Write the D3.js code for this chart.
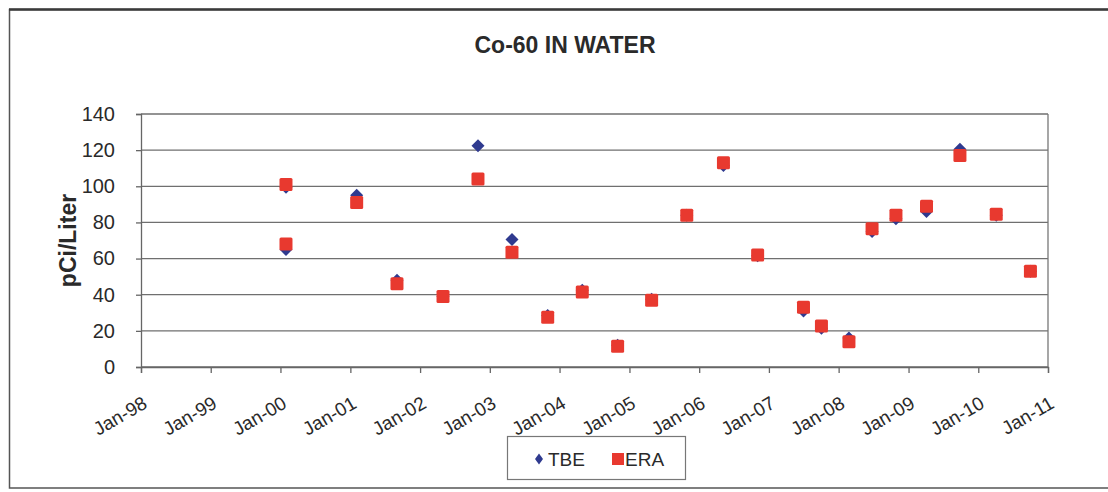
<!DOCTYPE html>
<html>
<head>
<meta charset="utf-8">
<script src="https://cdn.jsdelivr.net/npm/d3@7/dist/d3.min.js"></script>
<style>
  html, body { margin: 0; padding: 0; background: #fff; }
  svg { display: block; }
  text { font-family: Arial, "Liberation Sans", sans-serif; fill: #2a2a2a; }
</style>
</head>
<body>
<svg id="chart" width="1108" height="492"></svg>
<script>
// ---- data ----
const sampleDates = [
  "2000-01-30", "2000-01-30", "2001-02-03", "2001-09-02", "2002-05-01",
  "2002-10-31", "2003-04-27", "2003-10-31", "2004-04-29", "2004-10-31",
  "2005-04-27", "2005-10-28", "2006-05-08", "2006-11-03", "2007-07-01",
  "2007-10-03", "2008-02-24", "2008-06-24", "2008-10-27", "2009-04-05",
  "2009-09-27", "2010-04-05", "2010-10-01"
];
const tbeValues = [
  99.5, 65, 95, 48, 39,
  122.5, 70.5, 28.5, 42.5, 12,
  37.5, 84, 111.5, 61.5, 31,
  21.5, 16, 75, 82, 86,
  120.5, 84, 53
];
const eraValues = [
  101, 68, 91, 46, 39,
  104, 63.5, 27.5, 41.5, 11.5,
  37, 84, 113, 62, 33,
  22.7, 14, 76.5, 84, 89,
  117, 84.5, 53
];
const yTickValues = [0, 20, 40, 60, 80, 100, 120, 140];
const xTickLabels = ["Jan-98", "Jan-99", "Jan-00", "Jan-01", "Jan-02", "Jan-03", "Jan-04",
                     "Jan-05", "Jan-06", "Jan-07", "Jan-08", "Jan-09", "Jan-10", "Jan-11"];
const seriesNames = ["TBE", "ERA"];
const chartTitle = "Co-60 IN WATER";
const yAxisTitle = "pCi/Liter";

// ---- setup ----
const parse = d3.timeParse("%Y-%m-%d");
const svg = d3.select("#chart");
const plot = { left: 141, right: 1048, top: 114, bottom: 367 };

const x = d3.scaleTime()
  .domain([new Date(1998, 0, 1), new Date(2011, 0, 1)])
  .range([plot.left, plot.right]);
const y = d3.scaleLinear()
  .domain([0, 140])
  .range([plot.bottom, plot.top]);

const xTickDates = xTickLabels.map((_, i) => new Date(1998 + i, 0, 1));

// outer frame
svg.append("rect")
  .attr("x", 9.5).attr("y", 9.5)
  .attr("width", 1120).attr("height", 478.5)
  .attr("fill", "#fff")
  .attr("stroke", "#555").attr("stroke-width", 1.5);
svg.append("line")
  .attr("x1", 9).attr("x2", 1108).attr("y1", 9.5).attr("y2", 9.5)
  .attr("stroke", "#3a3a3a").attr("stroke-width", 2.5);

// title
svg.append("text")
  .attr("x", 565).attr("y", 53)
  .attr("text-anchor", "middle")
  .attr("font-size", 23).attr("font-weight", "bold")
  .text(chartTitle);

// gridlines
svg.append("g")
  .selectAll("line")
  .data(yTickValues)
  .join("line")
  .attr("x1", plot.left).attr("x2", plot.right)
  .attr("y1", d => y(d)).attr("y2", d => y(d))
  .attr("stroke", "#6f6f6f").attr("stroke-width", 1.3);

// right border of plot area
svg.append("line")
  .attr("x1", plot.right).attr("x2", plot.right)
  .attr("y1", plot.top).attr("y2", plot.bottom)
  .attr("stroke", "#777").attr("stroke-width", 1.3);

// y axis
const yAxis = d3.axisLeft(y).tickValues(yTickValues).tickSize(5).tickPadding(21).tickFormat(d3.format("d"));
const yg = svg.append("g").attr("transform", `translate(${plot.left},0)`).call(yAxis);
yg.select(".domain").attr("stroke", "#666").attr("stroke-width", 1.3);
yg.selectAll(".tick line").attr("stroke", "#666").attr("stroke-width", 1.3);
yg.selectAll(".tick text")
  .attr("font-size", 20).attr("font-family", "Arial, 'Liberation Sans', sans-serif")
  .attr("fill", "#2a2a2a");

// x axis
const xAxis = d3.axisBottom(x).tickValues(xTickDates).tickSize(6).tickFormat((d, i) => xTickLabels[i]);
const xg = svg.append("g").attr("transform", `translate(0,${plot.bottom})`).call(xAxis);
xg.select(".domain").attr("stroke", "#666").attr("stroke-width", 1.3);
xg.selectAll(".tick line").attr("stroke", "#666").attr("stroke-width", 1.3);
xg.selectAll(".tick text")
  .attr("font-size", 19).attr("font-family", "Arial, 'Liberation Sans', sans-serif")
  .attr("fill", "#2a2a2a")
  .attr("text-anchor", "end")
  .attr("dy", null)
  .attr("y", 0)
  .attr("transform", "translate(7,40) rotate(-30)");

// y axis title
svg.append("text")
  .attr("transform", `translate(76,${(plot.top + plot.bottom) / 2}) rotate(-90)`)
  .attr("text-anchor", "middle")
  .attr("font-size", 23).attr("font-weight", "bold")
  .text(yAxisTitle);

// data
const points = sampleDates.map((d, i) => ({ date: parse(d), tbe: tbeValues[i], era: eraValues[i] }));

const diamond = (w, h) => `M0,${-h / 2}L${w / 2},0L0,${h / 2}L${-w / 2},0Z`;
const tbeColor = "#2f3a8f";
const eraColor = "#e8392f";

svg.append("g")
  .selectAll("path")
  .data(points)
  .join("path")
  .attr("d", diamond(13, 13))
  .attr("transform", d => `translate(${x(d.date)},${y(d.tbe)})`)
  .attr("fill", tbeColor);

const sq = 13;
svg.append("g")
  .selectAll("rect")
  .data(points)
  .join("rect")
  .attr("x", d => x(d.date) - sq / 2)
  .attr("y", d => y(d.era) - sq / 2)
  .attr("width", sq).attr("height", sq)
  .attr("rx", 1.5)
  .attr("fill", eraColor);

// legend
const lg = svg.append("g");
lg.append("rect")
  .attr("x", 507.5).attr("y", 436.5).attr("width", 178).attr("height", 43)
  .attr("fill", "#fff").attr("stroke", "#777").attr("stroke-width", 1.2);
lg.append("path")
  .attr("d", diamond(8, 11))
  .attr("transform", "translate(539,459)")
  .attr("fill", tbeColor);
lg.append("text")
  .attr("x", 548).attr("y", 466)
  .attr("font-size", 19)
  .text(seriesNames[0]);
lg.append("rect")
  .attr("x", 612).attr("y", 453).attr("width", 12).attr("height", 12)
  .attr("fill", eraColor);
lg.append("text")
  .attr("x", 625).attr("y", 466)
  .attr("font-size", 19)
  .text(seriesNames[1]);
</script>
</body>
</html>
